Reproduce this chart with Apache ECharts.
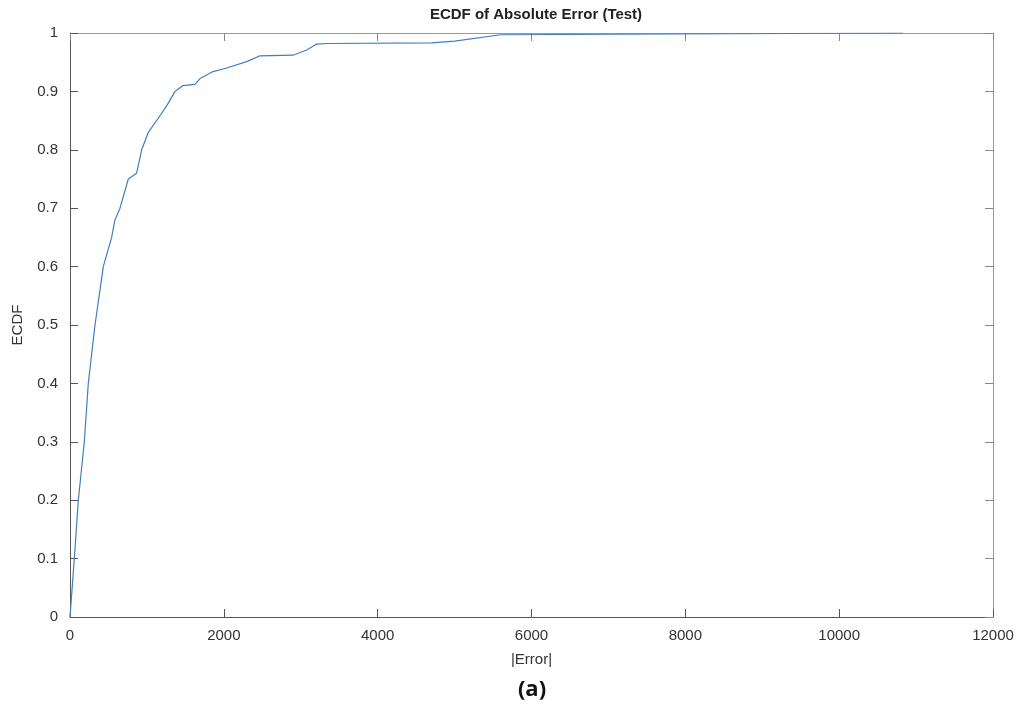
<!DOCTYPE html>
<html>
<head>
<meta charset="utf-8">
<script src="https://cdn.jsdelivr.net/npm/echarts@6/dist/echarts.min.js"></script>
<style>
  html, body { margin: 0; padding: 0; background: #fff; }
  #main { width: 1024px; height: 708px; }
</style>
</head>
<body>
<div id="main"></div>
<script>
// |Error| values and the ECDF at each
var errVals = [0, 56, 108, 186, 238, 325, 433, 541, 585, 650, 758, 866, 932, 1018, 1179, 1278,
  1365, 1469, 1625, 1690, 1860, 2037, 2297, 2470, 2900, 3077, 3207, 3350, 4700, 5000, 5600, 10830];
var ecdfVals = [0, 0.1, 0.2, 0.3, 0.4, 0.5, 0.6, 0.65, 0.68, 0.7, 0.75, 0.76, 0.8, 0.83, 0.86, 0.88,
  0.9, 0.91, 0.912, 0.922, 0.934, 0.94, 0.951, 0.961, 0.962, 0.971, 0.981, 0.982, 0.983, 0.986, 0.997, 1];

var xTicks = [0, 2000, 4000, 6000, 8000, 10000, 12000];
var yTicks = [0, 0.1, 0.2, 0.3, 0.4, 0.5, 0.6, 0.7, 0.8, 0.9, 1];

var pts = [];
for (var i = 0; i < errVals.length; i++) {
  pts.push([errVals[i], ecdfVals[i]]);
}

var myChart = echarts.init(document.getElementById('main'));
var axisCol = '#555';
var labelFont = { color: '#333', fontSize: 15, fontFamily: 'Liberation Sans' };

var option = {
  backgroundColor: '#fff',
  animation: false,
  title: [{
    text: 'ECDF of Absolute Error (Test)',
    left: 531, top: 2, textAlign: 'center',
    textStyle: { fontSize: 15, fontWeight: 'bold', color: '#222', fontFamily: 'Liberation Sans' }
  }, {
    text: '(a)',
    left: 527, top: 674, textAlign: 'center',
    textStyle: { fontSize: 22, fontWeight: 'bold', color: '#111', fontFamily: 'Open Sans' }
  }],
  grid: { left: 70, right: 31, top: 33, bottom: 91, containLabel: false },
  xAxis: [{
    type: 'value', min: xTicks[0], max: xTicks[xTicks.length - 1], interval: 2000,
    name: '|Error|', nameLocation: 'middle', nameGap: 35,
    nameTextStyle: labelFont,
    axisLine: { show: true, onZero: false, lineStyle: { color: axisCol, width: 1 } },
    axisTick: { show: true, inside: true, length: 8, lineStyle: { color: axisCol } },
    axisLabel: Object.assign({ margin: 11, formatter: function (v) { return String(v); } }, labelFont),
    splitLine: { show: false }
  }, {
    type: 'value', min: xTicks[0], max: xTicks[xTicks.length - 1], interval: 2000, position: 'top',
    axisLine: { show: true, onZero: false, lineStyle: { color: '#999', width: 1 } },
    axisTick: { show: true, inside: true, length: 8, lineStyle: { color: '#888' } },
    axisLabel: { show: false },
    splitLine: { show: false }
  }],
  yAxis: [{
    type: 'value', min: yTicks[0], max: yTicks[yTicks.length - 1], interval: 0.1,
    name: 'ECDF', nameLocation: 'middle', nameGap: 45,
    nameTextStyle: labelFont,
    axisLine: { show: true, onZero: false, lineStyle: { color: axisCol, width: 1 } },
    axisTick: { show: true, inside: true, length: 8, lineStyle: { color: axisCol } },
    axisLabel: Object.assign({ margin: 12 }, labelFont),
    splitLine: { show: false }
  }, {
    type: 'value', min: yTicks[0], max: yTicks[yTicks.length - 1], interval: 0.1, position: 'right',
    axisLine: { show: true, onZero: false, lineStyle: { color: '#999', width: 1 } },
    axisTick: { show: true, inside: true, length: 8, lineStyle: { color: '#888' } },
    axisLabel: { show: false },
    splitLine: { show: false }
  }],
  series: [{
    name: 'ECDF',
    type: 'line',
    data: pts,
    showSymbol: false,
    lineStyle: { color: '#3f7fbf', width: 1.2 },
    z: 3
  }]
};

myChart.setOption(option);
</script>
</body>
</html>
